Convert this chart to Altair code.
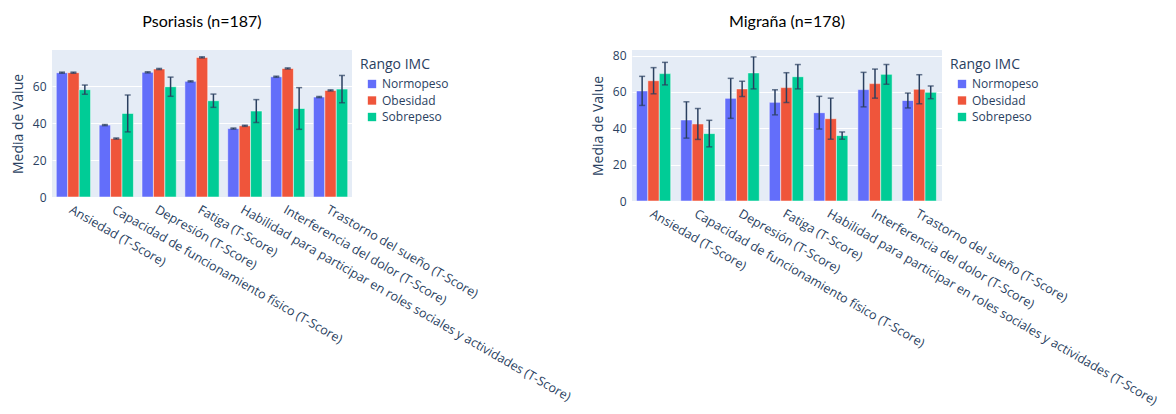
import altair as alt
import pandas as pd

categories = [
    "Ansiedad (T-Score)",
    "Capacidad de funcionamiento físico (T-Score)",
    "Depresión (T-Score)",
    "Fatiga (T-Score)",
    "Habilidad para participar en roles sociales y actividades (T-Score)",
    "Interferencia del dolor (T-Score)",
    "Trastorno del sueño (T-Score)",
]
groups = ["Normopeso", "Obesidad", "Sobrepeso"]
colors = ["#636EFA", "#EF553B", "#00CC96"]

# Psoriasis (n=187)
pso_normo = [67.4, 39.0, 67.6, 62.7, 37.1, 65.2, 54.2]
pso_normo_err = [0.3, 0.3, 0.3, 0.3, 0.3, 0.3, 0.3]
pso_obes = [67.4, 31.7, 69.4, 75.7, 38.6, 69.7, 57.8]
pso_obes_err = [0.3, 0.3, 0.3, 0.3, 0.3, 0.3, 0.3]
pso_sobre = [58.2, 45.3, 59.8, 52.2, 46.6, 48.0, 58.5]
pso_sobre_err = [2.5, 10.0, 5.2, 3.6, 6.2, 11.3, 7.4]

# Migraña (n=178)
mig_normo = [60.6, 44.6, 56.5, 54.3, 48.6, 61.3, 55.3]
mig_normo_err = [8.0, 10.0, 11.0, 6.9, 9.0, 9.5, 4.1]
mig_obes = [66.2, 42.4, 61.7, 62.4, 45.3, 64.6, 61.5]
mig_obes_err = [7.2, 8.5, 4.2, 8.2, 11.3, 8.0, 8.0]
mig_sobre = [70.1, 37.1, 70.5, 68.4, 36.0, 69.7, 59.8]
mig_sobre_err = [6.2, 7.3, 8.8, 6.7, 2.0, 5.4, 3.5]

y_ticks = [0, 20, 40, 60, 80]


def make_df(series, errs):
    rows = []
    for g, vals, es in zip(groups, series, errs):
        for c, v, e in zip(categories, vals, es):
            rows.append({"cat": c, "grp": g, "val": v, "lo": v - e, "hi": v + e})
    return pd.DataFrame(rows)


pso_df = make_df([pso_normo, pso_obes, pso_sobre], [pso_normo_err, pso_obes_err, pso_sobre_err])
mig_df = make_df([mig_normo, mig_obes, mig_sobre], [mig_normo_err, mig_obes_err, mig_sobre_err])

FONT = "Open Sans"
TXT = "#2a3f5f"


def panel(df, title, ymax, w, h):
    x = alt.X(
        "cat:N",
        sort=categories,
        scale=alt.Scale(paddingInner=0.2, paddingOuter=0.1),
        axis=alt.Axis(title=None, labelAngle=30, labelLimit=0, labelPadding=6,
                      labelFontSize=12.6, labelColor=TXT, labelFont=FONT,
                      ticks=False, domain=False, grid=False),
    )
    xo = alt.XOffset("grp:N", sort=groups, scale=alt.Scale(paddingInner=0, paddingOuter=0))
    yscale = alt.Scale(domain=[0, ymax], nice=False, zero=True)
    yaxis = alt.Axis(title="Media de Value", values=y_ticks, labelOverlap=False,
                     titleFontSize=14, titleFont=FONT, titleColor=TXT,
                     titleFontWeight="normal", titlePadding=7,
                     labelFontSize=12, labelFont=FONT, labelColor=TXT,
                     labelPadding=6, ticks=False, domain=False,
                     gridColor="white", gridWidth=1)
    base = alt.Chart(df).encode(x=x, xOffset=xo)
    bars = base.mark_bar(stroke="white", strokeWidth=0.5).encode(
        y=alt.Y("val:Q", scale=yscale, axis=yaxis, title="Media de Value"),
        color=alt.Color("grp:N", scale=alt.Scale(domain=groups, range=colors),
                        legend=alt.Legend(title="Rango IMC", orient="none",
                                          legendX=w + 8, legendY=8,
                                          titleFontSize=14, titleFont=FONT, titleColor=TXT,
                                          titleFontWeight="normal", labelFontSize=12,
                                          labelFont=FONT, labelColor=TXT,
                                          symbolType="square", symbolSize=70,
                                          symbolStrokeWidth=0, symbolOffset=6,
                                          rowPadding=4.5, titlePadding=6)),
    )
    rules = base.mark_rule(color=TXT, strokeWidth=1.5).encode(
        y=alt.Y("lo:Q", scale=yscale, axis=yaxis, title="Media de Value"), y2="hi:Q"
    )
    cap_lo = base.mark_tick(color=TXT, thickness=1.5, size=6).encode(
        y=alt.Y("lo:Q", scale=yscale, axis=yaxis, title="Media de Value"))
    cap_hi = base.mark_tick(color=TXT, thickness=1.5, size=6).encode(
        y=alt.Y("hi:Q", scale=yscale, axis=yaxis, title="Media de Value"))
    return alt.layer(bars, rules, cap_lo, cap_hi).properties(
        width=w, height=h,
        title=alt.TitleParams(title, font="Lato", fontSize=16, color="black",
                              fontWeight="normal", anchor="middle", offset=20),
    )


left = panel(pso_df, "Psoriasis (n=187)", 79.7, 300, 147)
right = panel(mig_df, "Migraña (n=178)", 83.1, 310, 151)

chart = alt.hconcat(left, right, spacing=280, bounds="flush").resolve_scale(
    color="independent"
).configure_view(fill="#E5ECF6", stroke=None).properties(
    padding={"left": 3, "top": 5, "right": 0, "bottom": 0}
)

chart.save("out.html", embed_options={"renderer": "svg", "actions": False})
